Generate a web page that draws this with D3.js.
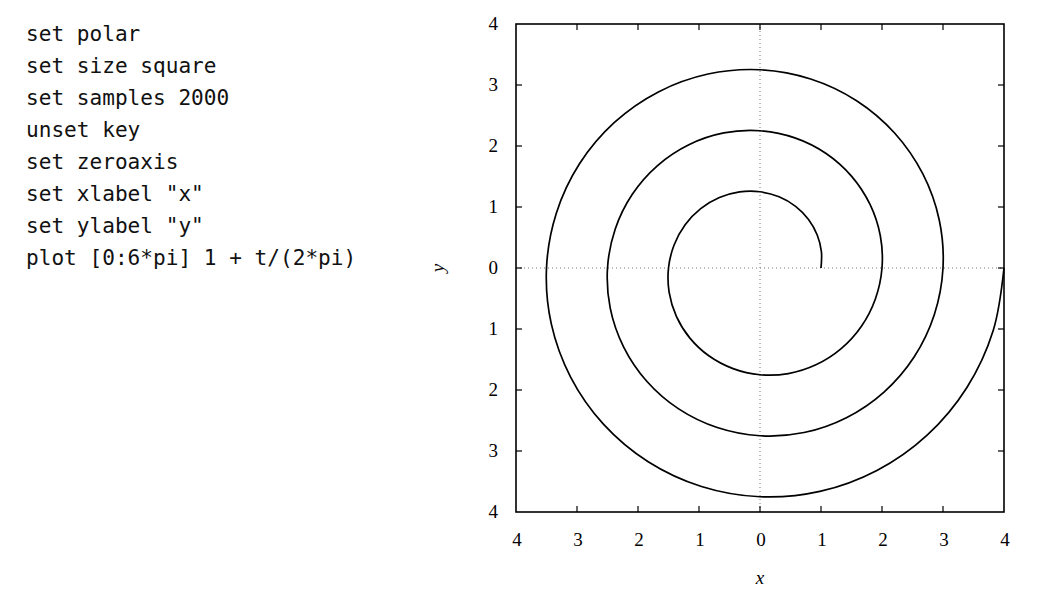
<!DOCTYPE html>
<html>
<head>
<meta charset="utf-8">
<script src="https://cdn.jsdelivr.net/npm/d3@7"></script>
<style>
body{margin:0;background:#fff}
</style>
</head>
<body>
<div id="chart"></div>
<script>
// gnuplot script shown on the left
var codeLines = ["set polar","set size square","set samples 2000","unset key","set zeroaxis",
  "set xlabel \"x\"","set ylabel \"y\"","plot [0:6*pi] 1 + t/(2*pi)"]

// spiral: radius every 15 degrees, three turns
var angleStep = 15
var radii = [1.000,1.042,1.083,1.125,1.167,1.208,1.250,1.292,1.333,1.375,1.417,1.458,
  1.500,1.542,1.583,1.625,1.667,1.708,1.750,1.792,1.833,1.875,1.917,1.958,
  2.000,2.042,2.083,2.125,2.167,2.208,2.250,2.292,2.333,2.375,2.417,2.458,
  2.500,2.542,2.583,2.625,2.667,2.708,2.750,2.792,2.833,2.875,2.917,2.958,
  3.000,3.042,3.083,3.125,3.167,3.208,3.250,3.292,3.333,3.375,3.417,3.458,
  3.500,3.542,3.583,3.625,3.667,3.708,3.750,3.792,3.833,3.875,3.917,3.958,4.000]

var tickValues = [-4,-3,-2,-1,0,1,2,3,4]
var tickLabels = ["4","3","2","1","0","1","2","3","4"]

var svg = d3.select("#chart").append("svg").attr("width",1050).attr("height",608)

svg.selectAll("text.code")
  .data(codeLines)
  .enter()
  .append("text")
  .attr("class","code")
  .attr("x",26)
  .attr("y",function(d,i){return 41+i*32})
  .attr("font-family","DejaVu Sans Mono")
  .attr("font-size","21.1px")
  .attr("fill","#111")
  .attr("xml:space","preserve")
  .text(function(d){return d})

var pLeft = 516, pRight = 1004, pTop = 24, pBottom = 512
var x = d3.scaleLinear().domain([-4,4]).range([pLeft,pRight])
var y = d3.scaleLinear().domain([-4,4]).range([pBottom,pTop])

// zero axes
svg.append("line").attr("x1",x(-4)).attr("x2",x(4)).attr("y1",y(0)).attr("y2",y(0))
  .attr("stroke","#777").attr("stroke-width",1).attr("stroke-dasharray","1,3")
svg.append("line").attr("x1",x(0)).attr("x2",x(0)).attr("y1",y(-4)).attr("y2",y(4))
  .attr("stroke","#777").attr("stroke-width",1).attr("stroke-dasharray","1,3")

// ticks on all four sides, pointing inward
var tickLen = 6
var inner = tickValues.slice(1,-1)
var tk = svg.append("g").attr("stroke","#000").attr("stroke-width",1.2)
inner.forEach(function(v){
  tk.append("line").attr("x1",x(v)).attr("x2",x(v)).attr("y1",pBottom).attr("y2",pBottom-tickLen)
  tk.append("line").attr("x1",x(v)).attr("x2",x(v)).attr("y1",pTop).attr("y2",pTop+tickLen)
  tk.append("line").attr("y1",y(v)).attr("y2",y(v)).attr("x1",pLeft).attr("x2",pLeft+tickLen)
  tk.append("line").attr("y1",y(v)).attr("y2",y(v)).attr("x1",pRight).attr("x2",pRight-tickLen)
})

// frame
svg.append("rect").attr("x",pLeft).attr("y",pTop).attr("width",pRight-pLeft).attr("height",pBottom-pTop)
  .attr("fill","none").attr("stroke","#000").attr("stroke-width",1.6)

// tick labels
var serif = "'Liberation Serif', 'DejaVu Serif', serif"
svg.selectAll("text.xt")
  .data(tickValues)
  .enter()
  .append("text")
  .attr("class","xt")
  .attr("x",function(d){return x(d)+1})
  .attr("y",546)
  .attr("text-anchor","middle")
  .attr("font-family",serif)
  .attr("font-size","19px")
  .text(function(d,i){return tickLabels[i]})

svg.selectAll("text.yt")
  .data(tickValues)
  .enter()
  .append("text")
  .attr("class","yt")
  .attr("x",498)
  .attr("y",function(d){return y(d)+6})
  .attr("text-anchor","end")
  .attr("font-family",serif)
  .attr("font-size","19px")
  .text(function(d,i){return tickLabels[i]})

// axis labels
svg.append("text").text("x").attr("x",760).attr("y",584).attr("text-anchor","middle")
  .attr("font-family",serif).attr("font-style","italic").attr("font-size","19px")
svg.append("text").text("y")
  .attr("transform","translate(444,268) rotate(-90)")
  .attr("text-anchor","middle")
  .attr("font-family",serif).attr("font-style","italic").attr("font-size","19px")

// the spiral
var pts = radii.map(function(r,i){
  var a = i*angleStep*Math.PI/180
  return [r*Math.cos(a), r*Math.sin(a)]
})
var line = d3.line()
  .x(function(d){return x(d[0])})
  .y(function(d){return y(d[1])})
  .curve(d3.curveCatmullRom.alpha(0.5))

svg.append("path").datum(pts).attr("d",line)
  .attr("fill","none").attr("stroke","#000").attr("stroke-width",1.7)
</script>
</body>
</html>
